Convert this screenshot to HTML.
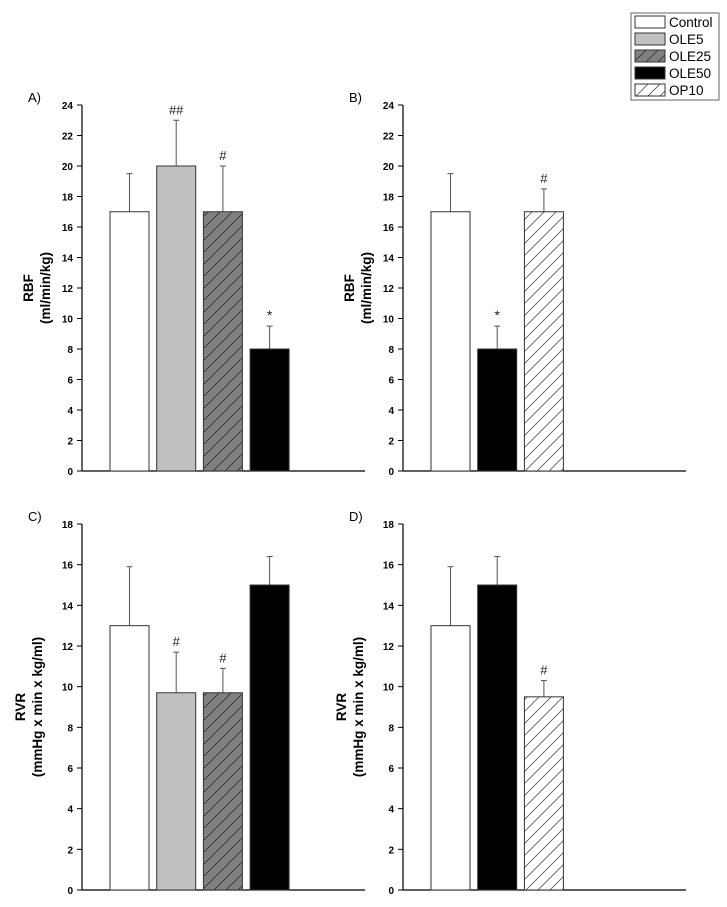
<!DOCTYPE html>
<html><head><meta charset="utf-8"><style>
body{margin:0;background:#fff;}
svg{display:block;font-family:"Liberation Sans",Arial,sans-serif;}
</style></head><body>
<svg id="fig" width="727" height="907" viewBox="0 0 727 907">
<defs>
<pattern id="hatchDark" patternUnits="userSpaceOnUse" width="12" height="12">
<rect width="12" height="12" fill="#808080"/>
<path d="M-1,13 L13,-1 M-7,7 L7,-7 M5,19 L19,5" stroke="#333" stroke-width="0.8"/>
</pattern>
<pattern id="hatchLight" patternUnits="userSpaceOnUse" width="12" height="12">
<rect width="12" height="12" fill="#fff"/>
<path d="M-1,13 L13,-1 M-7,7 L7,-7 M5,19 L19,5" stroke="#555" stroke-width="0.8"/>
</pattern>
</defs>
<g id="legend">
<rect x="631" y="13" width="88" height="87" fill="#fff" stroke="#666" stroke-width="1"/>
</g>
</svg>
<script>
const groupsA = ["Control","OLE5","OLE25","OLE50"];
const groupsB = ["Control","OLE50","OP10"];
const rbfA = [17,20,17,8];
const rbfAErr = [2.5,3,3,1.5];
const rbfAMarks = ["","##","#","*"];
const rbfB = [17,8,17];
const rbfBErr = [2.5,1.5,1.5];
const rbfBMarks = ["","*","#"];
const rvrC = [13,9.7,9.7,15];
const rvrCErr = [2.9,2,1.2,1.4];
const rvrCMarks = ["","#","#",""];
const rvrD = [13,15,9.5];
const rvrDErr = [2.9,1.4,0.8];
const rvrDMarks = ["","","#"];
const rbfTicks = [0,2,4,6,8,10,12,14,16,18,20,22,24];
const rvrTicks = [0,2,4,6,8,10,12,14,16,18];
const legendItems = ["Control","OLE5","OLE25","OLE50","OP10"];

const fills = {Control:"#fff",OLE5:"#c0c0c0",OLE25:"url(#hatchDark)",OLE50:"#000",OP10:"url(#hatchLight)"};
const NS="http://www.w3.org/2000/svg";
const svg=document.getElementById('fig');
function el(tag,attrs,parent){const e=document.createElementNS(NS,tag);for(const k in attrs)e.setAttribute(k,attrs[k]);(parent||svg).appendChild(e);return e;}

function panel(id,letter,ax,y0,yTop,yMax,ticks,groups,vals,errs,marks,t1,t2,tx){
  const g=el('g',{});
  
  
  const ys=v=>y0-(v/yMax)*(y0-yTop);
  const lab=el('text',{x:ax-54,y:yTop-3,'font-size':13},g);lab.textContent=letter;
  
  
  const yl=el('line',{x1:ax,y1:yTop,x2:ax,y2:y0,stroke:'#000','stroke-width':1.2},g);
  
  
  const xl=el('line',{x1:ax,y1:y0,x2:ax+283,y2:y0,stroke:'#000','stroke-width':1.2},g);
  
  
  ticks.forEach(t=>{
    const y=ys(t);
    el('line',{x1:ax-5,y1:y,x2:ax,y2:y,stroke:'#000'},g);
    const tt=el('text',{x:ax-9,y:y+4,'font-size':10,'font-weight':'bold','text-anchor':'end'},g);
    tt.textContent=t;
    
    
  });
  const title=el('text',{transform:`translate(${tx},${(y0+yTop)/2}) rotate(-90)`,'font-size':13.5,'font-weight':'bold','text-anchor':'middle'},g);
  
  
  const s1=el('tspan',{x:0,dy:0},title);s1.textContent=t1;
  const s2=el('tspan',{x:0,dy:17},title);s2.textContent=t2;
  groups.forEach((grp,i)=>{
    const x=ax+28+i*46.7, w=39, v=vals[i], top=ys(v), etop=ys(v+errs[i]), cx=x+w/2;
    const eb=el('line',{x1:cx,y1:top,x2:cx,y2:etop,stroke:'#555','stroke-width':1},g);
    
    
    el('line',{x1:cx-3,y1:etop,x2:cx+3,y2:etop,stroke:'#555','stroke-width':1},g);
    const r=el('rect',{x:x,y:top,width:w,height:y0-top,fill:fills[grp],stroke:'#333','stroke-width':1},g);
    
    
    if(marks[i]){
      const m=el('text',{x:cx,y:etop-6,'font-size':marks[i]=='*'?14:13,'text-anchor':'middle',fill:'#222'},g);
      m.textContent=marks[i];
      
      
    }
  });
}
panel('a','A)',82,471,105,24,rbfTicks,groupsA,rbfA,rbfAErr,rbfAMarks,'RBF','(ml/min/kg)',33);
panel('b','B)',403,471,105,24,rbfTicks,groupsB,rbfB,rbfBErr,rbfBMarks,'RBF','(ml/min/kg)',354);
panel('c','C)',82,890,524,18,rvrTicks,groupsA,rvrC,rvrCErr,rvrCMarks,'RVR','(mmHg x min x kg/ml)',25);
panel('d','D)',403,890,524,18,rvrTicks,groupsB,rvrD,rvrDErr,rvrDMarks,'RVR','(mmHg x min x kg/ml)',346);

const lg=document.getElementById('legend');
legendItems.forEach((n,i)=>{
  const y=16+i*17;
  const sw=el('rect',{x:635,y:y,width:30,height:12,fill:fills[n],stroke:'#333'},lg);
  
  
  const t=el('text',{x:669,y:y+11,'font-size':13.5},lg);
  t.textContent=n;
  
  
});
</script>
</body></html>
